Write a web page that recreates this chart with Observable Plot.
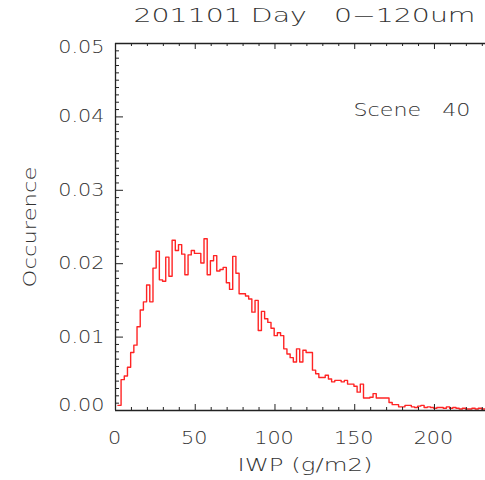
<!DOCTYPE html>
<html>
<head>
<meta charset="utf-8">
<script src="https://cdn.jsdelivr.net/npm/d3@7"></script>
<script src="https://cdn.jsdelivr.net/npm/@observablehq/plot@0.6"></script>
<style>
  html, body { margin: 0; padding: 0; background: #fff; }
  #chart { width: 485px; height: 480px; overflow: hidden; }
</style>
</head>
<body>
<div id="chart"></div>
<script>
// ---- data ----
const titleText = "201101 Day   0\u2212120um";
const sceneText = "Scene   40";
const xLabel = "IWP (g/m2)";
const yLabel = "Occurence";

const xMajor = [0, 50, 100, 150, 200];
const xMinor = [10, 20, 30, 40, 60, 70, 80, 90, 110, 120, 130, 140, 160, 170, 180, 190, 210, 220, 230];
const yMajor = [0, 0.01, 0.02, 0.03, 0.04, 0.05];

// histogram: first bin lower edge and bin width (IWP g/m2)
const binStart = 1.5;
const binWidth = 2;
const occurrence = [
  0.0007, 0.0042, 0.0047, 0.0059, 0.0079, 0.0089, 0.0114, 0.0137, 0.0148, 0.0171,
  0.0148, 0.0194, 0.0217, 0.0178, 0.0176, 0.0209, 0.0183, 0.0232, 0.0218, 0.0226,
  0.0213, 0.0185, 0.0212, 0.0218, 0.0214, 0.0214, 0.0201, 0.0234, 0.0185, 0.0204,
  0.0211, 0.0190, 0.0192, 0.0195, 0.0174, 0.0165, 0.0210, 0.0187, 0.0159, 0.0159,
  0.0156, 0.0152, 0.0134, 0.0150, 0.0109, 0.0135, 0.0125, 0.0120, 0.0112, 0.0102,
  0.0106, 0.0102, 0.0084, 0.0077, 0.0072, 0.0066, 0.0084, 0.0066, 0.0082, 0.0079,
  0.0079, 0.0055, 0.0050, 0.0045, 0.0045, 0.0048, 0.0043, 0.0039, 0.0041, 0.0041,
  0.0039, 0.0041, 0.0036, 0.0036, 0.0033, 0.0025, 0.0036, 0.0017, 0.0017, 0.0018,
  0.0023, 0.0017, 0.0017, 0.0017, 0.0017, 0.0011, 0.0008, 0.0008, 0.0005, 0.0005,
  0.0007, 0.0007, 0.0005, 0.0004, 0.0006, 0.0007, 0.0004, 0.0005, 0.0004, 0.0003,
  0.0004, 0.0004, 0.0003, 0.0005, 0.0003, 0.0004, 0.0003, 0.0002, 0.0003, 0.0002,
  0.0002, 0.0003, 0.0002, 0.0003, 0.0002, 0.0002
];

// ---- build step points from bins ----
const steps = occurrence.map((v, i) => ({x: binStart + i * binWidth, y: v}));
steps.push({x: binStart + occurrence.length * binWidth, y: occurrence[occurrence.length - 1]});

const yMinor = d3.range(0, 0.0505, 0.001).filter(v => Math.abs(v * 100 - Math.round(v * 100)) > 1e-6);

const W = 485, H = 480, mL = 115, mT = 43, mB = 70, mR = 0;
const innerW = W - mL - mR, innerH = H - mT - mB;
const axisColor = "#222";
const textColor = "#333";

const chart = Plot.plot({
  width: W,
  height: H,
  marginLeft: mL,
  marginTop: mT,
  marginBottom: mB,
  marginRight: mR,
  x: {domain: [0, 232], axis: null},
  y: {domain: [0, 0.05], axis: null},
  style: {fontFamily: "DejaVu Sans", fontWeight: 200, color: textColor, background: "#fff", overflow: "visible"},
  marks: [
    // data
    Plot.line(steps, {x: "x", y: "y", curve: "step-after", stroke: "#ff2424", strokeWidth: 1.4, clip: true}),
    // frame lines
    Plot.ruleX([0], {stroke: axisColor, strokeWidth: 1.3}),
    Plot.ruleY([0], {stroke: axisColor, strokeWidth: 1.3}),
    Plot.ruleY([0.05], {stroke: axisColor, strokeWidth: 1.3}),
    // bottom ticks (inward)
    Plot.tickX(xMajor, {x: d => d, insetTop: innerH - 6, stroke: axisColor}),
    Plot.tickX(xMinor, {x: d => d, insetTop: innerH - 3, stroke: axisColor}),
    // top ticks (inward)
    Plot.tickX(xMajor, {x: d => d, insetBottom: innerH - 6, stroke: axisColor}),
    Plot.tickX(xMinor, {x: d => d, insetBottom: innerH - 3, stroke: axisColor}),
    // left ticks (inward)
    Plot.tickY(yMajor, {y: d => d, insetRight: innerW - 8, stroke: axisColor}),
    Plot.tickY(yMinor, {y: d => d, insetRight: innerW - 4, stroke: axisColor}),
    // y tick labels
    Plot.text(yMajor.slice(1, 5), {y: d => d, frameAnchor: "left", textAnchor: "end", lineAnchor: "middle", dx: -11, text: d => d.toFixed(2), fontSize: 17, fill: textColor}),
    Plot.text(yMajor.slice(5), {y: d => d, frameAnchor: "left", textAnchor: "end", lineAnchor: "middle", dx: -11, dy: 4, text: d => d.toFixed(2), fontSize: 17, fill: textColor}),
    Plot.text(yMajor.slice(0, 1), {y: d => d, frameAnchor: "left", textAnchor: "end", lineAnchor: "middle", dx: -11, dy: -5, text: d => d.toFixed(2), fontSize: 17, fill: textColor}),
    // x tick labels
    Plot.text(xMajor, {x: d => d, frameAnchor: "bottom", textAnchor: "middle", lineAnchor: "middle", dx: -1, dy: 28, text: d => String(d), fontSize: 17, fill: textColor}),
    // title
    Plot.text([titleText], {frameAnchor: "top-left", textAnchor: "middle", lineAnchor: "middle", dx: 189, dy: -28, fontSize: 19, fill: textColor}),
    // scene annotation
    Plot.text([sceneText], {frameAnchor: "top-left", textAnchor: "start", lineAnchor: "middle", dx: 238, dy: 67, fontSize: 17, fill: textColor}),
    // x label
    Plot.text([xLabel], {frameAnchor: "bottom-left", textAnchor: "middle", lineAnchor: "middle", dx: 189.5, dy: 55, fontSize: 18, fill: textColor}),
    // y label
    Plot.text([yLabel], {frameAnchor: "left", textAnchor: "middle", lineAnchor: "middle", dx: -85, rotate: -90, fontSize: 18, fill: textColor})
  ]
});

document.getElementById("chart").appendChild(chart);

// widen the glyphs to imitate the wide vector font of the original
// per text group: either a stretch factor (<5) or an absolute length in px
const stretch = [1.22, 1.22, 1.22, 1.22, 342, 117, 135, 121];
chart.querySelectorAll('g[aria-label="text"]').forEach((g, i) => {
  g.style.whiteSpace = "pre";
  const s = stretch[i] ?? 1;
  g.querySelectorAll("text").forEach(t => {
    const natural = t.getComputedTextLength();
    const target = s < 5 ? natural * s : s;
    t.setAttribute("textLength", target.toFixed(1));
    t.setAttribute("lengthAdjust", "spacingAndGlyphs");
  });
});
</script>
</body>
</html>
